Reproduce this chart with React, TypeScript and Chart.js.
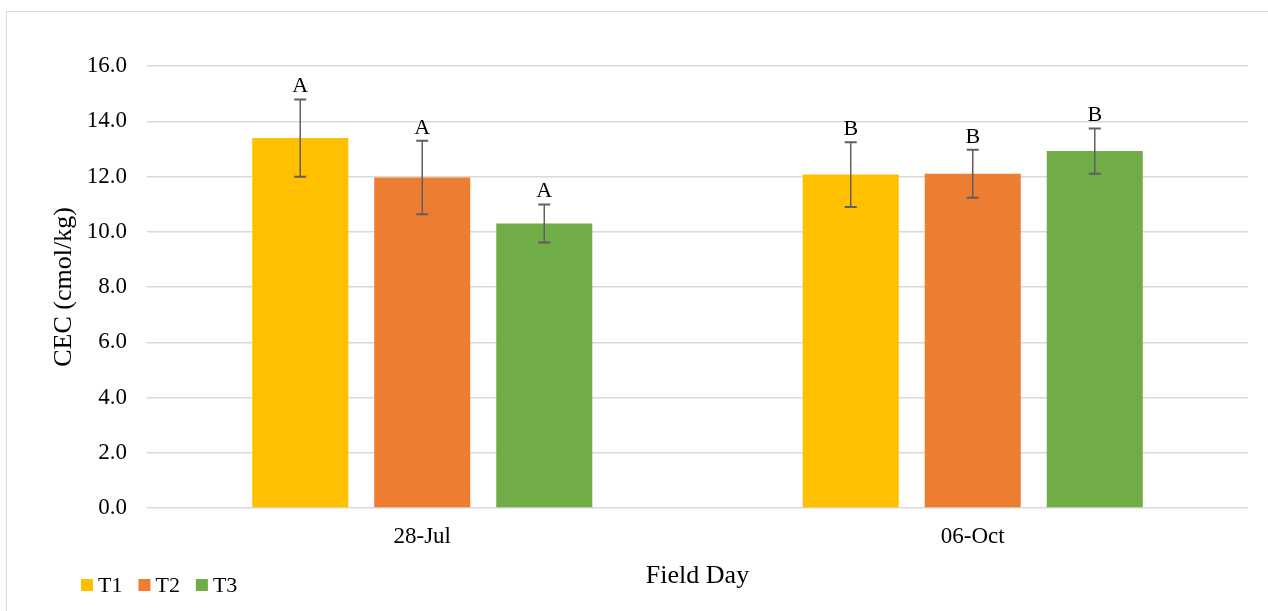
import React, { useEffect, useRef } from "react";
import { Chart, registerables } from "chart.js";

Chart.register(...registerables);

const categories = ["28-Jul", "06-Oct"];
const seriesNames = ["T1", "T2", "T3"];
const t1Values = [13.39, 12.07];
const t2Values = [11.96, 12.1];
const t3Values = [10.3, 12.92];
const t1Errors = [1.4, 1.17];
const t2Errors = [1.33, 0.87];
const t3Errors = [0.69, 0.82];
const t1Letters = ["A", "B"];
const t2Letters = ["A", "B"];
const t3Letters = ["A", "B"];
const yTickMin = 0;
const yTickMax = 16;
const yTickStep = 2;

const colors = ["#FFC000", "#ED7D31", "#70AD47"];
const FONT = "'Liberation Serif', 'Times New Roman', serif";

const errorsBySeries = [t1Errors, t2Errors, t3Errors];
const lettersBySeries = [t1Letters, t2Letters, t3Letters];

const errorBarPlugin = {
  id: "errorBars",
  afterDatasetsDraw(chart: any) {
    const ctx = chart.ctx;
    const yScale = chart.scales.y;
    ctx.save();
    chart.data.datasets.forEach((ds: any, di: number) => {
      const meta = chart.getDatasetMeta(di);
      meta.data.forEach((bar: any, i: number) => {
        const v = ds.data[i];
        const e = errorsBySeries[di][i];
        const x = bar.x;
        const yTop = yScale.getPixelForValue(v + e);
        const yBot = yScale.getPixelForValue(v - e);
        ctx.strokeStyle = "#5f5f5f";
        ctx.lineWidth = 1.5;
        ctx.beginPath();
        ctx.moveTo(x, yTop);
        ctx.lineTo(x, yBot);
        ctx.stroke();
        ctx.lineWidth = 2;
        ctx.beginPath();
        ctx.moveTo(x - 6, yTop);
        ctx.lineTo(x + 6, yTop);
        ctx.moveTo(x - 6, yBot);
        ctx.lineTo(x + 6, yBot);
        ctx.stroke();
        ctx.fillStyle = "#000";
        ctx.font = `22px ${FONT}`;
        ctx.textAlign = "center";
        ctx.textBaseline = "alphabetic";
        ctx.fillText(lettersBySeries[di][i], x, yTop - 7);
      });
    });
    ctx.restore();
  },
};

const legendPlugin = {
  id: "customLegend",
  afterDraw(chart: any) {
    const ctx = chart.ctx;
    ctx.save();
    ctx.font = `22px ${FONT}`;
    ctx.textBaseline = "alphabetic";
    ctx.textAlign = "left";
    let x = 81;
    const y = 579;
    chart.data.datasets.forEach((ds: any) => {
      ctx.fillStyle = ds.backgroundColor;
      ctx.fillRect(x, y, 12, 12);
      ctx.fillStyle = "#000";
      ctx.fillText(ds.label, x + 17, 591.5);
      const w = ctx.measureText(ds.label).width;
      x += 17 + w + 16;
    });
    ctx.restore();
  },
};

export default function App() {
  const ref = useRef<HTMLCanvasElement | null>(null);

  useEffect(() => {
    if (!ref.current) return;
    const chart = new Chart(ref.current, {
      type: "bar",
      data: {
        labels: categories,
        datasets: [t1Values, t2Values, t3Values].map((vals, i) => ({
          label: seriesNames[i],
          data: vals,
          backgroundColor: colors[i],
          borderWidth: 0,
          categoryPercentage: 0.665,
          barPercentage: 0.787,
        })),
      },
      options: {
        animation: false,
        responsive: false,
        maintainAspectRatio: false,
        layout: { padding: { left: 0, right: 20, top: 66, bottom: 19 } },
        plugins: {
          legend: { display: false },
          tooltip: { enabled: false },
        },
        scales: {
          x: {
            grid: { display: false, drawTicks: false },
            border: { display: false },
            ticks: {
              color: "#000",
              font: { family: FONT, size: 23 },
              padding: 15,
            },
            title: {
              display: true,
              text: "Field Day",
              color: "#000",
              font: { family: FONT, size: 26 },
              padding: { top: 0, bottom: 0 },
            },
            afterFit: (scale: any) => {
              scale.height = 84;
            },
          },
          y: {
            min: yTickMin,
            max: yTickMax,
            grid: { color: "#d9d9d9", lineWidth: 1.5, drawTicks: false },
            border: { display: false },
            ticks: {
              stepSize: yTickStep,
              color: "#000",
              font: { family: FONT, size: 23 },
              padding: 20,
              callback: (v: any) => Number(v).toFixed(1),
            },
            title: {
              display: true,
              text: "CEC (cmol/kg)",
              color: "#000",
              font: { family: FONT, size: 26 },
              padding: { top: 49, bottom: 8 },
            },
            afterFit: (scale: any) => {
              scale.width = 147;
            },
          },
        },
      },
      plugins: [errorBarPlugin, legendPlugin],
    });
    return () => chart.destroy();
  }, []);

  return (
    <div style={{ position: "absolute", left: 0, top: 0, width: 1268, height: 611, overflow: "hidden", background: "#fff" }}>
      <div
        style={{
          position: "absolute",
          left: 6,
          top: 11,
          width: 1400,
          height: 700,
          borderLeft: "1px solid #d9d9d9",
          borderTop: "1px solid #d9d9d9",
        }}
      />
      <canvas ref={ref} width={1268} height={611} style={{ position: "absolute", left: 0, top: 0, width: 1268, height: 611 }} />
    </div>
  );
}
